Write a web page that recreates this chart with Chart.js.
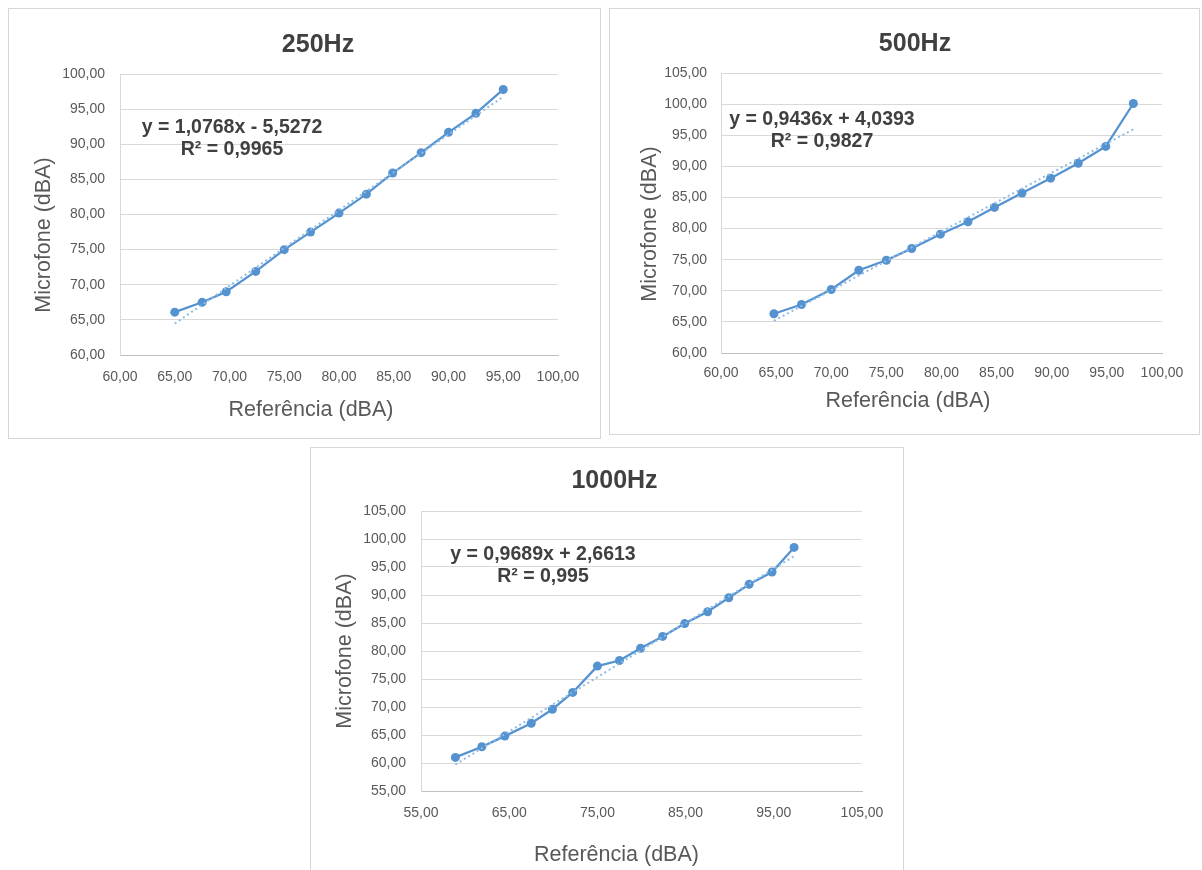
<!DOCTYPE html>
<html>
<head>
<meta charset="utf-8">
<script src="https://cdn.jsdelivr.net/npm/chart.js@4.4.1/dist/chart.umd.min.js"></script>
<style>
  html, body { margin: 0; padding: 0; background: #fff; width: 1202px; height: 870px; overflow: hidden; }
  .panel { position: absolute; box-sizing: border-box; border: 1px solid #d6d6d6; background: #fff; }
  .panel canvas { display: block; }
</style>
</head>
<body>
<div class="panel" style="left:8px; top:8px; width:593px; height:431px;">
  <canvas id="c250" width="591" height="429" style="width:591px;height:429px"></canvas>
</div>
<div class="panel" style="left:609px; top:8px; width:591px; height:427px;">
  <canvas id="c500" width="589" height="425" style="width:589px;height:425px"></canvas>
</div>
<div class="panel" style="left:310px; top:447px; width:594px; height:430px;">
  <canvas id="c1000" width="592" height="422" style="width:592px;height:422px"></canvas>
</div>

<script>
// 250Hz
const ref250 = [65.0, 67.5, 69.7, 72.4, 75.0, 77.4, 80.0, 82.5, 84.9, 87.5, 90.0, 92.5, 95.0];
const mic250 = [66.1, 67.5, 69.0, 71.9, 75.0, 77.5, 80.2, 82.9, 85.9, 88.8, 91.7, 94.4, 97.8];
const trend250 = [[65.0, 64.47], [95.0, 96.77]];

// 500Hz
const ref500 = [64.8, 67.3, 70.0, 72.5, 75.0, 77.3, 79.9, 82.4, 84.8, 87.3, 89.9, 92.4, 94.9, 97.4];
const mic500 = [66.3, 67.8, 70.2, 73.3, 74.9, 76.8, 79.1, 81.1, 83.4, 85.7, 88.1, 90.5, 93.2, 100.1];
const trend500 = [[64.8, 65.18], [97.4, 95.95]];

// 1000Hz
const ref1000 = [58.9, 61.9, 64.5, 67.5, 69.9, 72.2, 75.0, 77.5, 79.9, 82.4, 84.9, 87.5, 89.9, 92.2, 94.8, 97.3];
const mic1000 = [61.0, 62.9, 64.8, 67.1, 69.6, 72.6, 77.3, 78.3, 80.5, 82.6, 84.9, 87.0, 89.5, 91.9, 94.1, 98.5];
const trend1000 = [[58.9, 59.73], [97.3, 96.94]];

const titles = ['250Hz', '500Hz', '1000Hz'];
const equations = ['y = 1,0768x - 5,5272', 'y = 0,9436x + 4,0393', 'y = 0,9689x + 2,6613'];
const rSquared = ['R² = 0,9965', 'R² = 0,9827', 'R² = 0,995'];

const FONT = "'Liberation Sans', Arial, sans-serif";
const LINE = '#5592d0';
const TREND = '#8dbbe6';

const fmt = v => v.toFixed(2).replace('.', ',');

// draws titles, axis titles and the trendline equation
const textPlugin = {
  id: 'texts',
  afterDraw(chart, args, opts) {
    const ctx = chart.ctx;
    (opts.items || []).forEach(it => {
      ctx.save();
      ctx.font = it.font;
      ctx.fillStyle = it.color;
      ctx.textAlign = 'center';
      ctx.textBaseline = 'middle';
      ctx.translate(it.x, it.y);
      if (it.rotate) ctx.rotate(it.rotate);
      ctx.fillText(it.text, 0, 0);
      ctx.restore();
    });
  }
};

function makeChart(id, cfg) {
  const pts = cfg.xs.map((x, i) => ({ x: x, y: cfg.ys[i] }));
  const trend = cfg.trend.map(p => ({ x: p[0], y: p[1] }));
  return new Chart(document.getElementById(id), {
    type: 'scatter',
    data: {
      datasets: [
        {
          data: trend,
          showLine: true,
          borderColor: TREND,
          borderWidth: 2,
          borderDash: [2, 3],
          pointRadius: 0,
          order: 0
        },
        {
          data: pts,
          showLine: true,
          borderColor: LINE,
          borderWidth: 2.25,
          backgroundColor: LINE,
          pointBackgroundColor: LINE,
          pointBorderColor: LINE,
          pointRadius: 4.5,
          pointBorderWidth: 0,
          order: 1
        }
      ]
    },
    options: {
      responsive: false,
      animation: false,
      devicePixelRatio: 1,
      layout: { padding: { left: 0, top: cfg.padTop, right: cfg.padRight, bottom: 0 } },
      plugins: {
        legend: { display: false },
        tooltip: { enabled: false },
        texts: { items: cfg.texts }
      },
      scales: {
        x: {
          type: 'linear',
          min: cfg.xMin, max: cfg.xMax,
          afterFit: s => { s.height = cfg.xHeight; },
          grid: { display: false, drawTicks: false },
          border: { display: true, color: '#bfbfbf', width: 1 },
          ticks: {
            stepSize: cfg.xStep,
            padding: cfg.xPad,
            maxRotation: 0,
            autoSkip: false,
            color: '#595959',
            font: { family: FONT, size: 14 },
            callback: fmt
          }
        },
        y: {
          type: 'linear',
          min: cfg.yMin, max: cfg.yMax,
          afterFit: s => { s.width = cfg.yWidth; },
          grid: { color: '#d9d9d9', lineWidth: 1, drawTicks: false },
          border: { display: true, color: '#d9d9d9', width: 1 },
          ticks: {
            stepSize: 5,
            padding: cfg.yPad,
            color: '#595959',
            font: { family: FONT, size: 14 },
            callback: fmt
          }
        }
      }
    },
    plugins: [textPlugin]
  });
}

function labels(i, t, yt, xt, eq) {
  return [
    { text: titles[i], x: t[0], y: t[1], font: 'bold 25px ' + FONT, color: '#404040' },
    { text: 'Microfone (dBA)', x: yt[0], y: yt[1], rotate: -Math.PI / 2, font: '21.5px ' + FONT, color: '#595959' },
    { text: 'Referência (dBA)', x: xt[0], y: xt[1], font: '21.5px ' + FONT, color: '#595959' },
    { text: equations[i], x: eq[0], y: eq[1], font: 'bold 19.5px ' + FONT, color: '#404040' },
    { text: rSquared[i], x: eq[0], y: eq[1] + 22, font: 'bold 19.5px ' + FONT, color: '#404040' }
  ];
}

makeChart('c250', {
  xs: ref250, ys: mic250, trend: trend250,
  xMin: 60, xMax: 100, xStep: 5, yMin: 60, yMax: 100,
  padTop: 65, padRight: 42, yWidth: 111, xHeight: 83, xPad: 13.5, yPad: 15,
  texts: labels(0, [309, 36], [35, 226], [302, 401], [223, 119])
});

makeChart('c500', {
  xs: ref500, ys: mic500, trend: trend500,
  xMin: 60, xMax: 100, xStep: 5, yMin: 60, yMax: 105,
  padTop: 64, padRight: 37, yWidth: 111, xHeight: 81, xPad: 12, yPad: 14,
  texts: labels(1, [305, 35], [40, 215], [298, 392], [212, 111])
});

makeChart('c1000', {
  xs: ref1000, ys: mic1000, trend: trend1000,
  xMin: 55, xMax: 105, xStep: 10, yMin: 55, yMax: 105,
  padTop: 63, padRight: 41, yWidth: 110, xHeight: 79, xPad: 14, yPad: 15,
  texts: labels(2, [303.5, 33], [34, 203], [305.5, 407], [232, 107])
});
</script>
</body>
</html>
